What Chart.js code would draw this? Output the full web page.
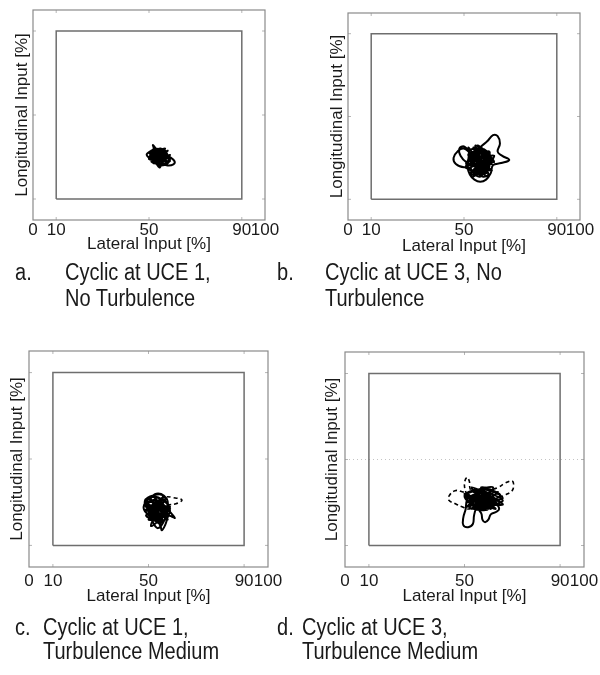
<!doctype html>
<html>
<head>
<title>Cyclic input at UCE 1 and UCE 3</title>
<script src="https://cdn.jsdelivr.net/npm/chart.js"></script>
<style>
  body { margin: 0; background: #fff; width: 600px; height: 675px; position: relative; overflow: hidden; }
  canvas { position: absolute; }
  .cap { position: absolute; font-family: 'Liberation Sans', Arial, sans-serif; font-size: 23px; color: #1a1a1a;
         transform: scaleX(0.87); transform-origin: left top; white-space: nowrap; }
</style>
</head>
<body>
<canvas id="chartA" width="300" height="260" style="left:0;top:0"></canvas>
<canvas id="chartB" width="300" height="260" style="left:300px;top:0"></canvas>
<canvas id="chartC" width="300" height="290" style="left:0;top:330px"></canvas>
<canvas id="chartD" width="300" height="290" style="left:300px;top:330px"></canvas>

<div class="cap" style="left:15px;top:259px;line-height:26px">a.</div>
<div class="cap" style="left:65px;top:259px;line-height:26px">Cyclic at UCE 1,<br>No Turbulence</div>
<div class="cap" style="left:277px;top:259px;line-height:26px">b.</div>
<div class="cap" style="left:325px;top:259px;line-height:26px">Cyclic at UCE 3, No<br>Turbulence</div>
<div class="cap" style="left:15px;top:615px;line-height:24px">c.</div>
<div class="cap" style="left:43px;top:615px;line-height:24px">Cyclic at UCE 1,<br>Turbulence Medium</div>
<div class="cap" style="left:277px;top:615px;line-height:24px">d.</div>
<div class="cap" style="left:302px;top:615px;line-height:24px">Cyclic at UCE 3,<br>Turbulence Medium</div>

<script>
// axis ticks and the 10..90 % limit box
var xTicks = [0, 10, 50, 90, 100];
var yTicks = [10, 50, 90];
var limitX = [10, 90, 90, 10, 10];
var limitY = [10, 10, 90, 90, 10];

// a. UCE 1, no turbulence (solid)
var aSolidX = [52, 54, 56, 57, 55, 52, 49, 51, 53, 55, 57, 59, 61, 60.5, 58, 56, 57, 59, 58, 55, 53, 54.5, 55, 53, 50.5, 51, 52, 51.7, 53, 55, 56, 55, 53, 51, 50, 52, 54, 56, 58, 57, 55, 53, 52,
               51, 58, 52, 57, 50, 59, 53, 56, 51, 58, 54, 50, 57, 52, 59, 55, 51, 56, 53, 58, 50, 55, 57, 52, 54, 59, 51, 56, 53, 57];
var aSolidY = [30, 32, 31, 29, 27, 28, 31, 33, 34, 33, 31, 30, 28, 26.5, 26, 27, 29.5, 29, 27, 26, 27.5, 25, 26, 29, 30, 32, 34, 35.7, 34, 32, 30, 28, 29, 31, 32, 33, 32, 33, 31, 29, 30, 31, 30,
               33, 31, 29, 33, 32, 28, 34, 27, 28, 33, 30, 30, 34, 27, 31, 28, 33, 29, 32, 30, 29, 34, 28, 31, 26, 29, 30, 33, 28, 32];

// b. UCE 3, no turbulence (solid)
var bSolidX = [56, 53, 50, 47.5, 45.5, 46.5, 50, 53, 55, 57, 60, 62.5, 64.5, 65.5, 64.5, 66.5, 69.5, 66, 62.5, 61.5, 59.5, 57, 54.5, 52.5, 51.5, 52, 54, 57, 60, 61.5, 60.5, 58, 55, 53, 54, 56.5, 59, 58.5, 56, 54, 53, 52, 50, 48, 48.5, 51, 54.5, 57.5, 59.5, 58, 55.5, 54.5, 56.5, 59, 60.5, 58, 55.5, 55, 57, 56, 53.5, 55, 57.5, 58.5, 56.5, 55,
               52, 62, 54, 60, 51, 63, 55, 58, 52, 61, 53, 59, 56, 62, 51, 57, 60, 53, 62, 55, 52, 59, 54, 61, 57, 52, 63, 55, 58, 53, 60, 56, 51, 62, 54, 59, 57, 53, 61, 55];
var bSolidY = [29, 32, 34.5, 33.5, 30, 27, 25.5, 27, 31, 35, 38, 41, 40.5, 37, 33, 31, 29, 27.5, 26.5, 22.5, 19.5, 18.5, 19.5, 22, 26, 30, 33, 34.5, 33, 29.5, 25.5, 23, 22.5, 24.5, 28, 30.5, 29, 26, 25, 26.5, 29.5, 33, 35.5, 34.5, 31, 28, 27, 28, 31, 33.5, 32.5, 30, 27, 25, 22, 21, 23.5, 27, 30, 32, 31, 28.5, 29.5, 32.5, 33.5, 30,
               30, 27, 35, 23, 26, 31, 22, 34, 33, 25, 22, 30, 36, 29, 28, 21, 33, 31, 24, 27, 35, 22, 29, 33, 24, 32, 28, 36, 26, 23, 31, 34, 25, 30, 21, 28, 33, 27, 26, 31];

// c. UCE 1, turbulence medium (solid + dashed)
var cSolidX = [54, 51, 49, 48, 50, 53, 55, 55.6, 57, 58, 59, 58, 56, 53, 50, 49.5, 51, 54, 57, 59.5, 61, 59, 57, 55, 52, 50, 50.5, 52.5, 55, 57, 57.5, 56, 53.5, 52, 53.5, 56, 56.5, 54.5, 52, 54, 56.5, 58, 57.5, 55, 53, 51.5, 49, 48.5, 50, 52.5, 55,
               49, 58, 50, 57, 48.5, 59, 51, 56, 49, 58, 52, 55, 50, 57, 53, 59, 49, 56, 51, 58, 54, 50, 57, 52, 55, 49, 58, 53];
var cSolidY = [26, 28, 30, 27, 24, 22, 19, 17, 19.5, 23, 26, 29, 31, 32.5, 31.5, 28, 25, 23.5, 24, 23.5, 22.7, 25.5, 28, 30, 31, 29.5, 26, 23, 21.5, 22, 25, 28, 28.5, 26.5, 24.5, 25, 27.5, 30, 33, 34, 33, 30.5, 27, 26.5, 28, 30.5, 31.5, 29, 27, 27.5, 27.5,
               29, 25, 22, 31, 26, 28, 19, 33, 31, 22, 29, 20, 26, 32, 23, 27, 24, 21, 32, 29, 18, 28, 25, 31, 22, 30, 27, 24];
var cDashX = [53, 55, 57, 60, 64, 61.5, 58, 56, 54, 52, 53.5, 55.5, 56];
var cDashY = [29, 31.5, 32.5, 32.2, 31, 29.3, 28.7, 28, 27, 25.5, 23, 24.5, 27];

// d. UCE 3, turbulence medium (solid + dashed)
var dSolidX = [56, 53, 51, 50.5, 49.5, 49.5, 51.5, 53.5, 54, 55, 57, 57.5, 58.6, 60, 61, 63, 64.5, 63, 60, 58, 55, 52, 50, 52, 55, 58, 61, 63.5, 66, 64, 61, 58, 55, 54, 56, 59, 62, 60, 57, 55, 53, 55, 58, 61, 62, 59, 56, 53,
               51, 64, 53, 62, 50, 66, 55, 60, 52, 65, 57, 61, 50, 63, 54, 66, 56, 59, 52, 64, 55, 61, 53, 65, 58, 51, 62, 56, 60, 54];
var dSolidY = [31, 33, 31, 27, 23, 19.5, 18.5, 20, 24, 27, 25, 22, 20.8, 22, 24.5, 25.5, 27, 29.5, 30.5, 33, 35.5, 35, 33, 30, 29, 28, 29, 31, 32, 34, 35.5, 36, 34, 31, 29.5, 31, 33, 34.5, 33, 31, 29.5, 27.5, 27, 27.5, 30, 32, 32.5, 31.5,
               30, 35, 27, 37, 33, 29, 36, 27, 28, 33, 37, 30, 34, 27, 36, 31, 28, 35, 32, 29, 35, 27, 37, 30, 33, 28, 36, 30, 28, 34];
var dDashX = [55, 52, 49, 46, 43.5, 43.5, 46, 49, 52, 54, 52, 50.5, 50, 51, 52, 52.5, 55, 58, 61, 64, 67, 70, 70.5, 69.5, 67, 64, 61, 58, 56];
var dDashY = [32, 33.5, 35, 35.5, 33, 31, 29.5, 28, 27, 29, 32, 35, 39, 41.7, 40, 36, 34.5, 35.5, 36, 37, 39, 40, 37, 35, 33.5, 32, 31, 30, 31];

var FONT = "'Liberation Sans', Arial, sans-serif";

function pts(xs, ys) {
    return xs.map(function (x, i) { return {x: x, y: ys[i]}; });
}

// axes frame, inward tick marks and optional dotted grid lines
var framePlugin = {
    id: 'frame',
    beforeDatasetsDraw: function (chart, args, opts) {
        var a = chart.chartArea, ctx = chart.ctx;
        var sx = chart.scales.x, sy = chart.scales.y;
        ctx.save();
        ctx.strokeStyle = '#c4c4c4';
        ctx.lineWidth = 1;
        ctx.setLineDash([1, 3]);
        (opts.gridY || []).forEach(function (v) {
            var py = sy.getPixelForValue(v);
            ctx.beginPath(); ctx.moveTo(a.left, py); ctx.lineTo(a.right, py); ctx.stroke();
        });
        ctx.setLineDash([]);
        ctx.strokeStyle = '#b5b5b5';
        xTicks.forEach(function (v) {
            if (v <= 0 || v >= 100) return;
            var px = sx.getPixelForValue(v);
            ctx.beginPath();
            ctx.moveTo(px, a.bottom); ctx.lineTo(px, a.bottom - 3);
            ctx.moveTo(px, a.top); ctx.lineTo(px, a.top + 3);
            ctx.stroke();
        });
        yTicks.forEach(function (v) {
            var py = sy.getPixelForValue(v);
            ctx.beginPath();
            ctx.moveTo(a.left, py); ctx.lineTo(a.left + 3, py);
            ctx.moveTo(a.right, py); ctx.lineTo(a.right - 3, py);
            ctx.stroke();
        });
        ctx.strokeStyle = '#8a8a8a';
        ctx.lineWidth = 1.2;
        ctx.strokeRect(a.left, a.top, a.right - a.left, a.bottom - a.top);
        ctx.restore();
    }
};

// g: chart area inside the canvas plus title / tick positions
function makeChart(id, solidX, solidY, dashX, dashY, g) {
    var canvas = document.getElementById(id);
    var w = canvas.width, h = canvas.height;
    var half = 17 * 1.2 / 2;
    var padLeft = g.yTitle - half;
    var datasets = [
        { data: pts(limitX, limitY), showLine: true, borderColor: '#6e6e6e', borderWidth: 1.5, pointRadius: 0, tension: 0 },
        { data: pts(solidX, solidY), showLine: true, borderColor: '#000', borderWidth: 2, pointRadius: 0, tension: 0.4 }
    ];
    if (dashX.length) {
        datasets.push({ data: pts(dashX, dashY), showLine: true, borderColor: '#000', borderWidth: 1.6,
                        borderDash: [4, 3], pointRadius: 0, tension: 0.4 });
    }
    return new Chart(canvas.getContext('2d'), {
        type: 'scatter',
        data: { datasets: datasets },
        plugins: [framePlugin],
        options: {
            responsive: false,
            animation: false,
            layout: { padding: { left: padLeft, top: g.top, right: w - g.right, bottom: 0 } },
            plugins: { legend: { display: false }, tooltip: { enabled: false }, frame: { gridY: g.gridY || [] } },
            scales: {
                x: {
                    min: 0, max: 100,
                    afterBuildTicks: function (s) { s.ticks = xTicks.map(function (v) { return {value: v}; }); },
                    afterFit: function (s) { s.height = h - g.bottom; s.paddingLeft = 0; s.paddingRight = 0; },
                    grid: { display: false, drawTicks: false },
                    border: { display: false },
                    ticks: { autoSkip: false, maxRotation: 0, padding: g.tickPad, color: '#1a1a1a',
                             font: { family: FONT, size: 17 } },
                    title: { display: true, text: 'Lateral Input [%]', color: '#1a1a1a',
                             padding: { top: 0, bottom: h - half - g.xTitle },
                             font: { family: FONT, size: 17 } }
                },
                y: {
                    min: 0, max: 100,
                    afterBuildTicks: function (s) { s.ticks = yTicks.map(function (v) { return {value: v}; }); },
                    afterFit: function (s) { s.width = g.left - padLeft; s.paddingTop = 0; s.paddingBottom = 0; },
                    grid: { display: false, drawTicks: false },
                    border: { display: false },
                    ticks: { display: false },
                    title: { display: true, text: 'Longitudinal Input [%]', color: '#1a1a1a',
                             padding: 0, font: { family: FONT, size: 17 } }
                }
            }
        }
    });
}

makeChart('chartA', aSolidX, aSolidY, [], [],
          { left: 33, right: 265, top: 10, bottom: 220, yTitle: 22, xTitle: 244, tickPad: 0 });
makeChart('chartB', bSolidX, bSolidY, [], [],
          { left: 48, right: 280, top: 13, bottom: 220, yTitle: 37, xTitle: 246, tickPad: 0 });
makeChart('chartC', cSolidX, cSolidY, cDashX, cDashY,
          { left: 29, right: 268, top: 21, bottom: 237, yTitle: 17, xTitle: 266, tickPad: 4 });
makeChart('chartD', dSolidX, dSolidY, dDashX, dDashY,
          { left: 45, right: 284, top: 22, bottom: 237, yTitle: 32, xTitle: 266, tickPad: 4, gridY: [50] });
</script>
</body>
</html>
